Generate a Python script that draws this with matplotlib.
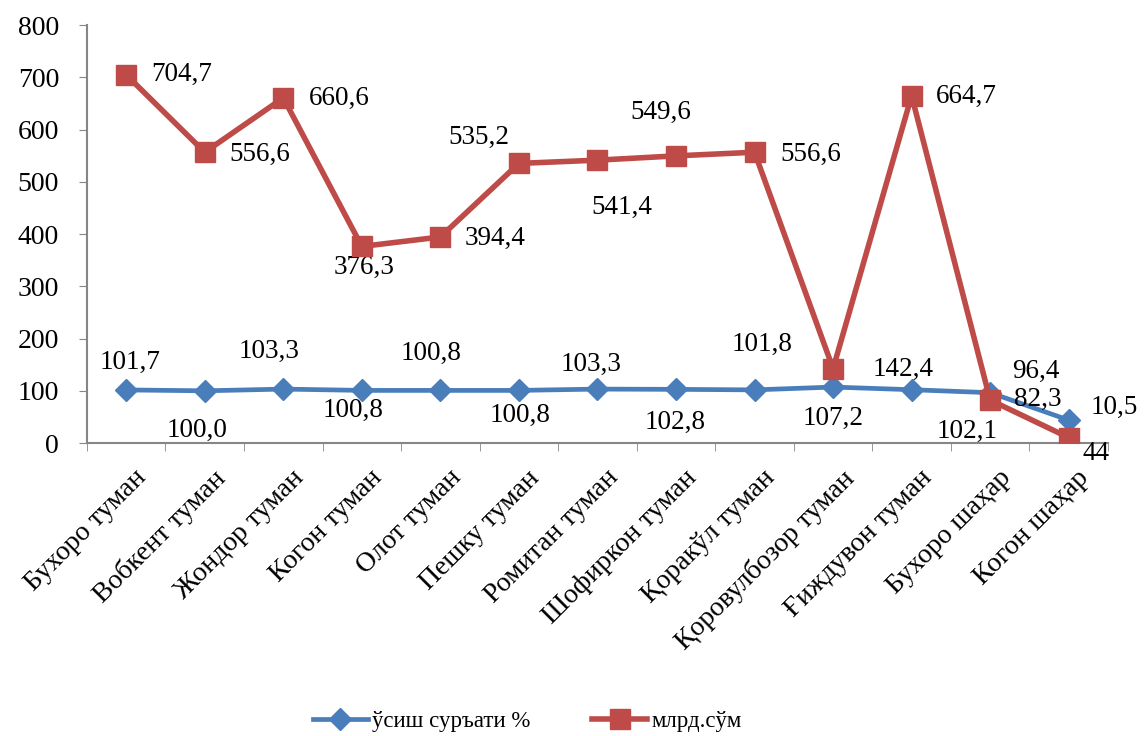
import matplotlib
matplotlib.use("Agg")
import matplotlib.pyplot as plt
import matplotlib.transforms as mtransforms
from matplotlib.ticker import FixedLocator

plt.rcParams['font.family'] = ['Liberation Serif', 'DejaVu Serif']

# categories and values
tumanlar = ['Бухоро туман', 'Вобкент туман', 'Жондор туман', 'Когон туман',
            'Олот туман', 'Пешку туман', 'Ромитан туман', 'Шофиркон туман',
            'Қоракўл туман', 'Қоровулбозор туман', 'Ғиждувон туман',
            'Бухоро шаҳар', 'Когон шаҳар']
usish = [101.7, 100.0, 103.3, 100.8, 100.8, 100.8, 103.3, 102.8, 101.8, 107.2, 102.1, 96.4, 44]
mlrd = [704.7, 556.6, 660.6, 376.3, 394.4, 535.2, 541.4, 549.6, 556.6, 142.4, 664.7, 82.3, 10.5]
usish_lbl = ['101,7', '100,0', '103,3', '100,8', '100,8', '100,8', '103,3', '102,8',
             '101,8', '107,2', '102,1', '96,4', '44']
mlrd_lbl = ['704,7', '556,6', '660,6', '376,3', '394,4', '535,2', '541,4', '549,6',
            '556,6', '142,4', '664,7', '82,3', '10,5']

# label offsets in pixels (dx, dy) relative to point, dy up
usish_off = [(4, 28), (-8, -40), (-14, 38), (-9, -20), (-9, 37), (1, -25), (-6, 25),
             (-1, -33), (8, 45), (0, -31), (55, -42), (46, 21), (27, -33)]
mlrd_off = [(55, 0), (55, -2), (56, -1), (2, -21), (55, -1), (-40, 26), (24, -47),
            (-15, 43), (56, -2), (70, -1), (55, -1), (48, 1), (46, 30)]

fig = plt.figure(figsize=(11.44, 7.36), dpi=100)
ax = fig.add_axes([0.076, 0.398, 0.8925, 0.568])

x = list(range(len(tumanlar)))
blue = '#4A7EBB'
red = '#BE4B48'
ax.plot(x, usish, color=blue, lw=3.4, marker='D', ms=11, label='ўсиш суръати %', zorder=3)
ax.plot(x, mlrd, color=red, lw=4, marker='s', ms=14, label='млрд.сўм', zorder=4)

for i in x:
    ax.annotate(usish_lbl[i], (i, usish[i]), xytext=usish_off[i], textcoords='offset pixels',
                ha='center', va='center', fontsize=19.5)
    ax.annotate(mlrd_lbl[i], (i, mlrd[i]), xytext=mlrd_off[i], textcoords='offset pixels',
                ha='center', va='center', fontsize=19.5)

ax.set_xlim(-0.5, len(tumanlar) - 0.5)
ax.set_ylim(0, 800)
ax.set_yticks(range(0, 801, 100))
ax.set_xticks(x)
ax.set_xticklabels(tumanlar, rotation=45, ha='right', rotation_mode='anchor', fontsize=20)
ax.xaxis.set_minor_locator(FixedLocator([i - 0.5 for i in range(len(tumanlar) + 1)]))
ax.tick_params(axis='x', which='major', length=0, pad=16)
ax.tick_params(axis='x', which='minor', length=6, color='#868686', direction='out')
ax.tick_params(axis='y', length=6, color='#868686', labelsize=20, pad=14)

offset = mtransforms.ScaledTranslation(8 / 100, 0, fig.dpi_scale_trans)
for lbl in ax.get_xticklabels():
    lbl.set_transform(lbl.get_transform() + offset)

for s in ['top', 'right']:
    ax.spines[s].set_visible(False)
for s in ['left', 'bottom']:
    ax.spines[s].set_color('#868686')
    ax.spines[s].set_linewidth(1.5)

fig.legend(loc='center', bbox_to_anchor=(0.461, 0.02), ncol=2, frameon=False,
           fontsize=16.5, columnspacing=2.7, handlelength=2.4, handletextpad=0.2)

fig.savefig('out.png', dpi=100)
